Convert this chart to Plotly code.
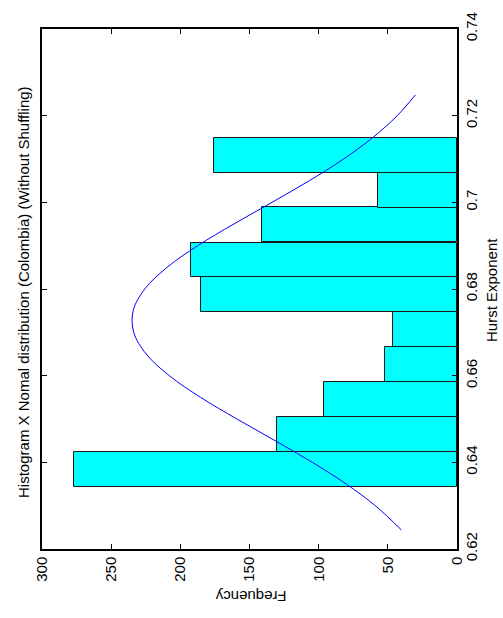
import plotly.graph_objects as go

# Histogram bins (Hurst exponent centers) and counts
hurst_centers = [0.6384, 0.6465, 0.6545, 0.6626, 0.6706, 0.6787, 0.6867, 0.6948, 0.7028, 0.7109]
counts = [277, 130, 96, 52, 46, 185, 192, 141, 57, 176]
bin_width = 0.00805

# Normal distribution curve
curve_hurst = [0.6244, 0.630, 0.635, 0.640, 0.645, 0.650, 0.655, 0.660, 0.665, 0.670, 0.675,
               0.680, 0.685, 0.690, 0.695, 0.700, 0.705, 0.710, 0.715, 0.720, 0.7248]
curve_freq = [40.2, 59.1, 80.1, 104.6, 131.5, 159.1, 185.4, 208.0, 224.7, 233.7, 234.1,
              225.7, 209.6, 187.4, 161.3, 133.7, 106.7, 82.0, 60.7, 43.2, 30.1]

freq_ticks = [0, 50, 100, 150, 200, 250, 300]
hurst_ticks = [0.62, 0.64, 0.66, 0.68, 0.70, 0.72, 0.74]
hurst_labels = ["0.62", "0.64", "0.66", "0.68", "0.7", "0.72", "0.74"]

title_text = "Histogram X Nomal distribution (Colombia) (Without Shuffling)"
xlabel = "Hurst Exponent"
ylabel = "Frequency"

W, H = 503, 618
L, R, T, B = 41.7, 456.7, 23.3, 549.3
font = "Liberation Sans, Arial, Helvetica, sans-serif"

fig = go.Figure()
fig.add_trace(go.Bar(
    y=hurst_centers, x=counts, orientation="h", width=bin_width,
    marker=dict(color="#00FFFF", line=dict(color="#1a1a1a", width=1)),
    showlegend=False, hoverinfo="skip"))
fig.add_trace(go.Scatter(
    x=curve_freq, y=curve_hurst, mode="lines", line=dict(color="#0000FF", width=1, shape="spline"),
    showlegend=False, hoverinfo="skip"))

def px(xp):
    return (xp - L) / (R - L)

def py(yp):
    return (B - yp) / (B - T)

fig.update_layout(
    width=W, height=H,
    margin=dict(l=L, r=W - R, t=T, b=H - B, pad=0),
    paper_bgcolor="white", plot_bgcolor="white",
    font=dict(family=font, size=15, color="black"),
    bargap=0,
    xaxis=dict(range=[300, 0], tickvals=freq_ticks, ticktext=[str(v) for v in freq_ticks],
               tickangle=-90, ticks="inside", ticklen=5, tickcolor="black",
               showline=True, linecolor="black", linewidth=1.5, mirror="allticks",
               showgrid=False, zeroline=False, tickfont=dict(size=15)),
    yaxis=dict(range=[0.62, 0.74], side="right", tickvals=hurst_ticks, ticktext=hurst_labels,
               tickangle=-90, ticks="inside", ticklen=5, tickcolor="black",
               showline=True, linecolor="black", linewidth=1.5, mirror="allticks",
               showgrid=False, zeroline=False, tickfont=dict(size=15)),
    annotations=[
        dict(text=title_text, textangle=-90, xref="paper", yref="paper",
             x=px(23), y=py(289), xanchor="center", yanchor="middle", showarrow=False,
             font=dict(size=15)),
        dict(text=xlabel, textangle=-90, xref="paper", yref="paper",
             x=px(491), y=py(287), xanchor="center", yanchor="middle", showarrow=False,
             font=dict(size=15)),
        dict(text=ylabel, textangle=180, xref="paper", yref="paper",
             x=px(251), y=py(598), xanchor="center", yanchor="middle", showarrow=False,
             font=dict(size=15)),
    ],
)

fig.write_html("out.html")
